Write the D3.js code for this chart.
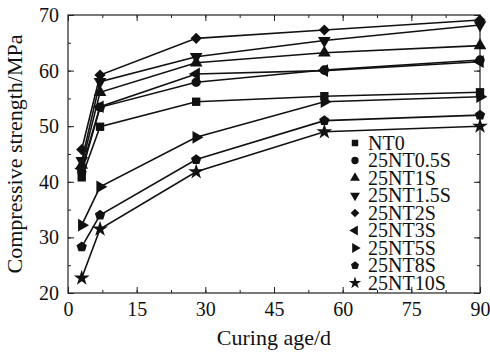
<!DOCTYPE html>
<html>
<head>
<meta charset="utf-8">
<script src="https://cdn.jsdelivr.net/npm/d3@7"></script>
<style>
  html, body { margin: 0; padding: 0; background: #fff; }
  svg { display: block; font-family: "Liberation Serif", "Times New Roman", serif; }
</style>
</head>
<body>
<svg id="chart" width="490" height="352"></svg>
<script>
// Curing ages (days)
const days = [3, 7, 28, 56, 90];

// Compressive strength (MPa) per mix
const seriesNames = ["NT0", "25NT0.5S", "25NT1S", "25NT1.5S", "25NT2S", "25NT3S", "25NT5S", "25NT8S", "25NT10S"];
const nt0     = [40.8, 49.9, 54.4, 55.4, 56.1];
const nt05s   = [41.8, 53.4, 57.9, 60.1, 61.9];
const nt1s    = [43.0, 56.1, 61.4, 63.2, 64.5];
const nt15s   = [43.8, 58.0, 62.5, 65.4, 68.2];
const nt2s    = [45.8, 59.2, 65.8, 67.3, 69.1];
const nt3s    = [42.4, 53.5, 59.4, 60.0, 61.6];
const nt5s    = [32.2, 39.1, 48.0, 54.4, 55.3];
const nt8s    = [28.3, 34.0, 44.0, 51.0, 52.0];
const nt10s   = [22.7, 31.5, 41.8, 49.0, 50.0];
const seriesValues = [nt0, nt05s, nt1s, nt15s, nt2s, nt3s, nt5s, nt8s, nt10s];

const xTicks = [0, 15, 30, 45, 60, 75, 90];
const yTicks = [20, 30, 40, 50, 60, 70];

const margin = { left: 68, right: 10, top: 15, bottom: 59 };
const W = 490, H = 352;
const svg = d3.select("#chart");

const x = d3.scaleLinear().domain([0, 90]).range([margin.left, W - margin.right]);
const y = d3.scaleLinear().domain([20, 70]).range([H - margin.bottom, margin.top]);

// Pentagon symbol
const symbolPentagon = {
  draw(ctx, size) {
    const r = Math.sqrt(size / 2.378);
    for (let i = 0; i < 5; i++) {
      const a = -Math.PI / 2 + i * 2 * Math.PI / 5;
      const px = r * Math.cos(a), py = r * Math.sin(a);
      if (i === 0) ctx.moveTo(px, py); else ctx.lineTo(px, py);
    }
    ctx.closePath();
  }
};

// marker shape and rotation for each mix
const markerDefs = [
  { type: d3.symbolSquare,   rot: 0,   k: 1.0 },
  { type: d3.symbolCircle,   rot: 0,   k: 1.0 },
  { type: d3.symbolTriangle, rot: 0,   k: 1.0 },
  { type: d3.symbolTriangle, rot: 180, k: 1.0 },
  { type: d3.symbolSquare,   rot: 45,  k: 0.9 },
  { type: d3.symbolTriangle, rot: -90, k: 1.0 },
  { type: d3.symbolTriangle, rot: 90,  k: 1.0 },
  { type: symbolPentagon,    rot: 0,   k: 1.0 },
  { type: d3.symbolStar,     rot: 0,   k: 1.1 }
];

// Axes (ticks inward, mirrored on all four sides)
const plotW = W - margin.left - margin.right;
const plotH = H - margin.top - margin.bottom;
const xMinor = d3.range(0, 90.1, 7.5);
const yMinor = d3.range(20, 70.1, 5);

function drawAxis(axis, transform, cls) {
  const g = svg.append("g").attr("class", cls).attr("transform", transform).call(axis);
  g.select(".domain").remove();
  g.selectAll(".tick line").attr("stroke", "#222").attr("stroke-width", 1);
  return g;
}

// minor ticks
drawAxis(d3.axisBottom(x).tickValues(xMinor).tickSize(-3).tickFormat(""), `translate(0,${H - margin.bottom})`, "xminor");
drawAxis(d3.axisTop(x).tickValues(xMinor).tickSize(-3).tickFormat(""), `translate(0,${margin.top})`, "xminor2");
drawAxis(d3.axisLeft(y).tickValues(yMinor).tickSize(-3).tickFormat(""), `translate(${margin.left},0)`, "yminor");
drawAxis(d3.axisRight(y).tickValues(yMinor).tickSize(-3).tickFormat(""), `translate(${W - margin.right},0)`, "yminor2");

// major ticks with labels
const gx = drawAxis(d3.axisBottom(x).tickValues(xTicks).tickSize(-6).tickPadding(9), `translate(0,${H - margin.bottom})`, "xaxis");
gx.selectAll("text").attr("font-size", 20).attr("fill", "#111").attr("font-family", "Liberation Serif");
const gy = drawAxis(d3.axisLeft(y).tickValues(yTicks).tickSize(-6).tickPadding(9), `translate(${margin.left},0)`, "yaxis");
gy.selectAll("text").attr("font-size", 20).attr("fill", "#111").attr("font-family", "Liberation Serif");
drawAxis(d3.axisTop(x).tickValues(xTicks).tickSize(-6).tickFormat(""), `translate(0,${margin.top})`, "xaxis2");
drawAxis(d3.axisRight(y).tickValues(yTicks).tickSize(-6).tickFormat(""), `translate(${W - margin.right},0)`, "yaxis2");

// frame
svg.append("rect")
  .attr("x", margin.left).attr("y", margin.top)
  .attr("width", plotW).attr("height", plotH)
  .attr("fill", "none").attr("stroke", "#222").attr("stroke-width", 1.2);

// axis titles
svg.append("text")
  .attr("x", x(45)).attr("y", 345)
  .attr("text-anchor", "middle").attr("font-size", 22).attr("fill", "#111")
  .text("Curing age/d");
svg.append("text")
  .attr("transform", `translate(22,${y(45)}) rotate(-90)`)
  .attr("text-anchor", "middle").attr("font-size", 22).attr("fill", "#111")
  .text("Compressive strength/MPa");

// lines
const line = d3.line().x((d, i) => x(days[i])).y(d => y(d));
const plot = svg.append("g");
seriesValues.forEach((vals) => {
  plot.append("path")
    .attr("d", line(vals))
    .attr("fill", "none").attr("stroke", "#111").attr("stroke-width", 1.6);
});

// markers
seriesValues.forEach((vals, s) => {
  const m = markerDefs[s];
  const sym = d3.symbol().type(m.type).size(70 * m.k);
  plot.selectAll(null).data(vals).enter().append("path")
    .attr("d", sym())
    .attr("transform", (d, i) => `translate(${x(days[i])},${y(d)}) rotate(${m.rot})`)
    .attr("fill", "#111");
});

// legend
const legend = svg.append("g");
const lx = 355, ly0 = 143, ldy = 17.5;
seriesNames.forEach((name, s) => {
  const m = markerDefs[s];
  const sym = d3.symbol().type(m.type).size(42 * m.k);
  const yy = ly0 + s * ldy;
  legend.append("path")
    .attr("d", sym())
    .attr("transform", `translate(${lx},${yy}) rotate(${m.rot})`)
    .attr("fill", "#111");
  legend.append("text")
    .attr("x", lx + 13).attr("y", yy + 6.5)
    .attr("font-size", 20).attr("fill", "#111")
    .text(name);
});
</script>
</body>
</html>
